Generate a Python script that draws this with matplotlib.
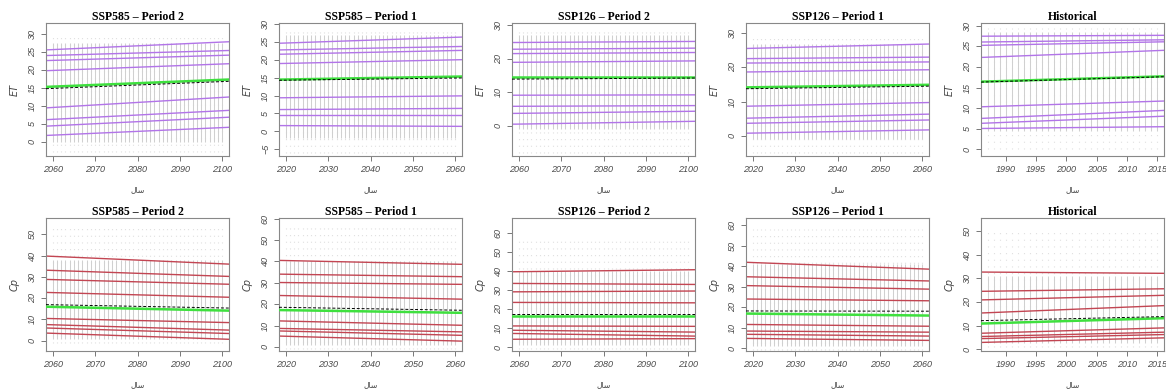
import numpy as np
import matplotlib
matplotlib.use("Agg")
import matplotlib.pyplot as plt

# panels, left to right
titles = ["SSP585 – Period 2", "SSP585 – Period 1", "SSP126 – Period 2",
          "SSP126 – Period 1", "Historical"]
first_year = [2060, 2020, 2060, 2020, 1987]
last_year = [2100, 2060, 2100, 2060, 2015]

# ET: quantile regression lines, value at first year / last year
et_q_start = [
    [25.6, 24.0, 22.6, 19.8, 9.5, 6.2, 4.4, 1.8],
    [24.7, 22.8, 21.6, 19.0, 9.4, 6.1, 4.5, 1.6],
    [24.8, 22.8, 21.5, 18.9, 9.1, 5.8, 3.7, 0.5],
    [25.6, 22.6, 21.3, 18.7, 8.7, 5.2, 3.7, 0.8],
    [27.5, 26.1, 25.3, 22.4, 10.4, 7.6, 6.4, 5.1],
]
et_q_end = [
    [27.7, 25.3, 24.0, 21.6, 12.3, 8.6, 6.7, 3.9],
    [26.3, 23.7, 22.6, 20.0, 9.9, 6.4, 4.5, 1.4],
    [25.1, 23.1, 21.8, 19.3, 9.2, 6.0, 4.3, 1.3],
    [26.8, 23.0, 21.6, 19.3, 9.7, 6.3, 4.6, 1.7],
    [27.7, 26.6, 26.1, 24.0, 11.7, 9.4, 8.0, 5.5],
]
et_med = [(15.3, 17.2), (14.5, 15.3), (14.6, 14.6), (14.2, 14.9), (16.5, 17.7)]
et_ols = [(14.8, 16.7), (14.3, 14.9), (13.9, 14.2), (13.8, 14.5), (16.4, 17.6)]
et_dense = [(0, 27.5), (-2, 27), (-1, 27), (-1, 27), (4.5, 28.5)]
et_sparse = [(-3, 29.5), (-6, 29), (-8, 29), (-5, 29), (0, 29.5)]

# Cp
cp_q_start = [
    [39.6, 33.0, 28.7, 22.6, 10.4, 7.5, 5.9, 3.5],
    [40.4, 34.0, 30.1, 24.0, 12.1, 8.6, 7.4, 5.0],
    [39.7, 33.5, 29.1, 23.5, 11.1, 8.8, 7.1, 4.1],
    [41.8, 34.8, 30.5, 24.0, 11.6, 8.4, 6.8, 4.8],
    [32.7, 24.6, 21.0, 15.5, 6.9, 5.5, 4.6, 3.0],
]
cp_q_end = [
    [36.1, 30.3, 26.6, 20.5, 8.6, 5.1, 3.5, 0.8],
    [38.7, 32.9, 29.3, 22.4, 10.2, 7.1, 5.5, 2.8],
    [40.7, 33.0, 29.5, 23.3, 10.9, 7.9, 5.8, 4.4],
    [38.7, 32.9, 28.9, 23.2, 10.8, 7.9, 6.0, 3.9],
    [32.2, 25.6, 22.8, 18.4, 9.0, 7.2, 6.2, 4.8],
]
cp_med = [(15.9, 14.2), (17.2, 16.0), (16.2, 16.2), (16.9, 16.0), (11.0, 13.1)]
cp_ols = [(16.9, 15.4), (18.5, 17.2), (17.6, 17.6), (18.2, 18.1), (12.2, 13.8)]
cp_dense = [(1, 38), (1, 40), (1, 40), (1, 41), (2.5, 31)]
cp_sparse = [(-1, 55), (-1, 57), (-1, 58), (-1, 58), (1, 50)]

et_ylim = [(-4, 33), (-6.9, 30.3), (-9, 30.6), (-5.9, 33), (-1.6, 30.7)]
et_yticks = [range(0, 31, 5), range(-5, 31, 5), range(0, 31, 10), range(0, 31, 10), range(0, 31, 5)]
cp_ylim = [(-4.8, 57.6), (-1.9, 60.3), (-2.1, 68), (-1.3, 63.5), (-0.7, 55.6)]
cp_yticks = [range(0, 51, 10), range(0, 61, 10), range(0, 61, 10), range(0, 61, 10), range(0, 51, 10)]

xlab = "\ufedd\ufe8e\ufeb3"  # sal, pre-shaped

fig = plt.figure(figsize=(11.66, 3.89), dpi=100)
W, H = 1166, 389
lefts = [46, 279, 512, 746, 981]


def draw(ax, i, q0, q1, med, ols, dense, sparse, ylim, yt, qcol, ylab):
    y0, y1 = first_year[i], last_year[i]
    years = np.arange(y0, y1 + 1)
    ax.vlines(years, sparse[0], sparse[1], color="#e0e0e0", lw=0.8,
              ls=(0, (1, 5)), zorder=1)
    ax.vlines(years, dense[0], dense[1], color="#d0d0d0", lw=0.75, zorder=1)
    for a, b in zip(q0, q1):
        ax.axline((y0, a), (y1, b), color=qcol, lw=1.0, zorder=2)
    ax.axline((y0, med[0]), (y1, med[1]), color="#3ee03e", lw=1.8, zorder=3)
    ax.axline((y0, ols[0]), (y1, ols[1]), color="black", lw=0.7, ls=(0, (3, 2)), zorder=4)
    span = y1 - y0
    ax.set_xlim(y0 - 0.04 * span, y1 + 0.04 * span)
    ax.set_ylim(*ylim)
    if span > 30:
        ax.set_xticks(range(y0, y1 + 1, 10))
    else:
        ax.set_xticks(range(1990, 2016, 5))
    ax.set_yticks(list(yt))
    for lbl in ax.get_yticklabels():
        lbl.set_rotation(90)
        lbl.set_va("center")
    ax.tick_params(direction="out", length=3.5, width=0.7, color="#777777",
                   labelcolor="#4a4a4a", labelsize=6.5, pad=3)
    for lbl in ax.get_xticklabels() + ax.get_yticklabels():
        lbl.set_fontstyle("italic")
        lbl.set_family("Liberation Sans")
    for s in ax.spines.values():
        s.set_color("#888888")
        s.set_linewidth(0.8)
    ax.set_title(titles[i], fontfamily="Liberation Serif", fontweight="bold",
                 fontsize=8.5, pad=-4.5)
    ax.set_ylabel(ylab, fontstyle="italic", fontsize=7, color="#444444", labelpad=6)
    ax.set_xlabel(xlab, fontfamily="DejaVu Sans", fontsize=5.5, color="#444444", labelpad=8)


for i in range(5):
    ax = fig.add_axes([lefts[i] / W, 1 - 156 / H, 183 / W, 133 / H])
    draw(ax, i, et_q_start[i], et_q_end[i], et_med[i], et_ols[i], et_dense[i],
         et_sparse[i], et_ylim[i], et_yticks[i], "#b274e8", "ET")
    ax = fig.add_axes([lefts[i] / W, 1 - 351 / H, 183 / W, 133 / H])
    draw(ax, i, cp_q_start[i], cp_q_end[i], cp_med[i], cp_ols[i], cp_dense[i],
         cp_sparse[i], cp_ylim[i], cp_yticks[i], "#c24552", "Cp")

fig.savefig("out.png", dpi=100)
